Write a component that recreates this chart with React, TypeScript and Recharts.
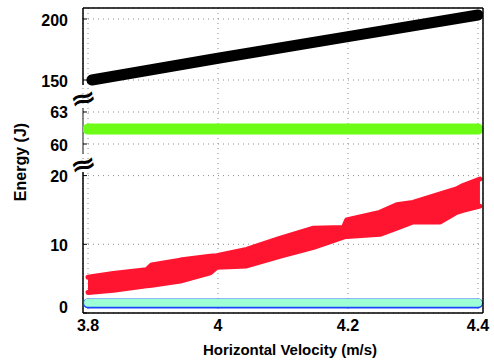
import { ComposedChart, Line, Area, XAxis, YAxis, CartesianGrid, ReferenceLine } from "recharts";

const FONT = '"Liberation Sans", Arial, sans-serif';

// x axis
const VELOCITY_TICKS = [3.8, 4, 4.2, 4.4];
const X_MIN = 3.7923;
const X_MAX = 4.4077;

// broken y axis: 0-20, 60-63, 150-200
const ENERGY_TICKS = [0, 10, 20, 60, 63, 150, 200];

const blackVelocity = [3.806, 4.0, 4.2, 4.4];
const blackEnergy = [150, 167.8, 185.5, 203.3];

const greenVelocity = [3.8, 4.0, 4.2, 4.4];
const greenEnergy = [61.4, 61.4, 61.4, 61.4];

const redVelocity = [3.8, 3.839, 3.89, 3.898, 3.942, 3.988, 3.998, 4.044, 4.095, 4.147, 4.193, 4.198, 4.249, 4.275, 4.3, 4.342, 4.367, 4.377, 4.403];
const redLow = [3.0, 3.3, 3.95, 4.05, 4.65, 5.85, 6.65, 6.85, 8.25, 9.55, 11.05, 11.15, 11.45, 12.35, 13.25, 13.25, 14.65, 14.95, 15.55];
const redHigh = [5.2, 5.75, 6.3, 7.0, 7.7, 8.25, 8.35, 9.25, 10.85, 12.35, 12.45, 13.55, 14.65, 15.75, 16.1, 17.35, 18.05, 18.55, 19.5];

const mintVelocity = [3.8, 4.4];
const mintEnergy = [1.5, 1.5];
const blueVelocity = [3.8, 4.4];
const blueEnergy = [1.4, 1.4];

// maps a real energy value to pixel-linear plot units (bottom = 0, top = 305)
function toPlot(v: number) {
  if (v <= 25) return v * 6.87;
  if (v <= 100) return 169 + (v - 60) * 10.67;
  return 233 + (v - 150) * 1.22;
}

const blackRows = blackVelocity.map((x, i) => ({ x, e: blackEnergy[i] }));
const greenRows = greenVelocity.map((x, i) => ({ x, e: greenEnergy[i] }));
const redRows = redVelocity.map((x, i) => ({ x, lo: redLow[i], hi: redHigh[i] }));
const mintRows = mintVelocity.map((x, i) => ({ x, e: mintEnergy[i] }));
const blueRows = blueVelocity.map((x, i) => ({ x, e: blueEnergy[i] }));

const YTick = ({ x, y, payload }: any) => {
  const label = ENERGY_TICKS.find((t) => Math.abs(toPlot(t) - payload.value) < 0.01);
  const dy = label === 0 ? -6 : 1;
  return (
    <text x={x} y={y + dy} textAnchor="end" dominantBaseline="central" fontSize={16} fontWeight={700} fill="#000" fontFamily={FONT}>
      {label}
    </text>
  );
};

const breakStyle: any = {
  position: "absolute",
  transform: "translate(-50%, -50%) rotate(-15deg) scale(1.6, 1.3)",
  fontFamily: '"DejaVu Sans", sans-serif',
  fontSize: 20,
  fontWeight: 700,
  lineHeight: 1,
};

export default function App() {
  return (
    <div style={{ position: "absolute", left: 0, top: 0, width: 494, height: 360, background: "#fff", fontFamily: FONT }}>
      <ComposedChart width={494} height={360} margin={{ top: 8, right: 0, bottom: 0, left: 0 }}>
        <CartesianGrid stroke="#8c8c8c" strokeDasharray="1 4" />
        <XAxis
          type="number"
          dataKey="x"
          domain={[X_MIN, X_MAX]}
          ticks={VELOCITY_TICKS}
          allowDataOverflow
          height={47}
          tickLine={false}
          tickMargin={1}
          axisLine={{ stroke: "#000", strokeWidth: 1.5 }}
          tick={{ fill: "#000", fontSize: 16, fontWeight: 700, fontFamily: FONT }}
        />
        <YAxis
          type="number"
          domain={[0, 305]}
          ticks={ENERGY_TICKS.map(toPlot)}
          allowDataOverflow
          width={83}
          axisLine={false}
          tickSize={-4}
          tickMargin={19}
          tickLine={{ stroke: "#000" }}
          tick={<YTick />}
        />
        <YAxis
          yAxisId="right"
          orientation="right"
          type="number"
          domain={[0, 305]}
          ticks={ENERGY_TICKS.map(toPlot)}
          width={11}
          axisLine={{ stroke: "#000", strokeWidth: 1.5 }}
          tickSize={-4}
          tickLine={{ stroke: "#000" }}
          tick={false}
        />

        {/* frame: top edge and left axis pieces with gaps at the breaks */}
        <ReferenceLine y={305} stroke="#000" strokeWidth={1.5} ifOverflow="visible" />
        <ReferenceLine segment={[{ x: X_MIN, y: 0 }, { x: X_MIN, y: 141 }]} stroke="#000" strokeWidth={1.5} ifOverflow="visible" />
        <ReferenceLine segment={[{ x: X_MIN, y: 159 }, { x: X_MIN, y: 205 }]} stroke="#666" strokeWidth={1.5} ifOverflow="visible" />
        <ReferenceLine segment={[{ x: X_MIN, y: 228 }, { x: X_MIN, y: 305 }]} stroke="#000" strokeWidth={1.5} ifOverflow="visible" />

        <Line data={blueRows} dataKey={(d: any) => toPlot(d.e)} type="linear" stroke="#1a45ff" strokeWidth={10} strokeLinecap="round" dot={false} isAnimationActive={false} />
        <Line data={mintRows} dataKey={(d: any) => toPlot(d.e)} type="linear" stroke="#9cffd6" strokeWidth={8} strokeLinecap="round" dot={false} isAnimationActive={false} />
        <Area
          data={redRows}
          dataKey={(d: any) => [toPlot(d.lo), toPlot(d.hi)]}
          type="linear"
          fill="#ff1530"
          fillOpacity={1}
          stroke="#ff1530"
          strokeWidth={5}
          strokeLinejoin="round"
          strokeLinecap="round"
          dot={false}
          activeDot={false}
          isAnimationActive={false}
        />
        <Line data={greenRows} dataKey={(d: any) => toPlot(d.e)} type="linear" stroke="#6dfc16" strokeWidth={11} strokeLinecap="round" dot={false} isAnimationActive={false} />
        <Line data={blackRows} dataKey={(d: any) => toPlot(d.e)} type="linear" stroke="#000" strokeWidth={11} strokeLinecap="round" dot={false} isAnimationActive={false} />
      </ComposedChart>

      <div style={{ ...breakStyle, left: 83, top: 98 }}>≈</div>
      <div style={{ ...breakStyle, left: 83, top: 164 }}>≈</div>

      <div style={{ position: "absolute", left: 290, top: 349, transform: "translate(-50%, -50%)", fontSize: 15, fontWeight: 700, whiteSpace: "nowrap" }}>
        Horizontal Velocity (m/s)
      </div>
      <div style={{ position: "absolute", left: 21, top: 162, transform: "translate(-50%, -50%) rotate(-90deg)", fontSize: 16, fontWeight: 700, whiteSpace: "nowrap" }}>
        Energy (J)
      </div>
    </div>
  );
}
